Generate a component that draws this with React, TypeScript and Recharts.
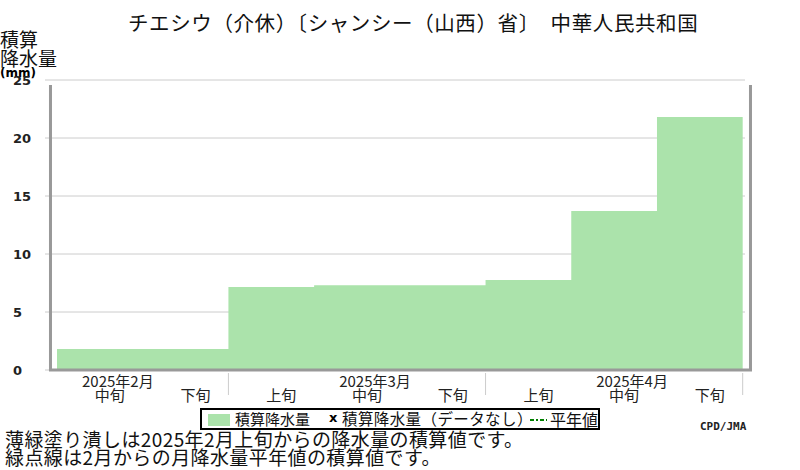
import { ComposedChart, Area, XAxis, YAxis, CartesianGrid, ReferenceLine } from 'recharts'

const TITLE = 'チエシウ（介休）〔シャンシー（山西）省〕　中華人民共和国'
const MONTHS = ['2025年2月', '2025年3月', '2025年4月']
const DEKADS = ['上旬', '中旬', '下旬']
// cumulative precipitation (mm) at the end of each dekad, Feb 上旬 .. Apr 下旬
const TOTALS = [1.8, 1.8, 1.8, 7.15, 7.3, 7.3, 7.75, 13.7, 21.8]
const FIRST_SHOWN = 1 // Feb 上旬 sits left of the plot
const Y_TICKS = [0, 5, 10, 15, 20, 25]
const NOTES = [
  '薄緑塗り潰しは2025年2月上旬からの降水量の積算値です。',
  '緑点線は2月からの月降水量平年値の積算値です。',
]

const JP = '"Noto Sans CJK JP", sans-serif'
const FILL = '#abe3ab'
const FRAME = '#999'

// step area: each dekad holds its value until the next one starts
const data = TOTALS.slice(FIRST_SHOWN).map((total, i) => ({ x: FIRST_SHOWN + i, total }))
data.push({ x: TOTALS.length, total: TOTALS[TOTALS.length - 1] })

// dekad centres get labels, month boundaries get separator lines
const xTicks: number[] = []
for (let i = FIRST_SHOWN; i < TOTALS.length; i++) {
  if (i % 3 === 0) xTicks.push(i)
  xTicks.push(i + 0.5)
}
xTicks.push(TOTALS.length)

const X_DOMAIN = [0.86, 9.027]
const FRAME_LEFT = 0.924
const FRAME_RIGHT = 9.091
const FRAME_TOP = 24.57

function XTick(props: any) {
  const { x, y, payload } = props
  const v = payload.value
  if (Number.isInteger(v)) {
    return <line x1={x} x2={x} y1={y + 3} y2={y + 25} stroke="#ccc" />
  }
  const i = Math.floor(v)
  const d = i % 3
  return (
    <g fontFamily={JP} fontSize={15} fill="#222">
      {d === 1 && (
        <text x={x + 18} y={y + 17} textAnchor="middle">{MONTHS[Math.floor(i / 3)]}</text>
      )}
      <text x={x + 10} y={y + 31} textAnchor="middle">{DEKADS[d]}</text>
    </g>
  )
}

function YTick(props: any) {
  const { x, y, payload } = props
  return (
    <text x={x - 32} y={y + 5} fontSize={13} fontWeight="bold" fontFamily="DejaVu Sans" fill="#222">
      {payload.value}
    </text>
  )
}

function Label({ left, top, size, children, style }: any) {
  return (
    <div
      style={{
        position: 'absolute',
        left,
        top: top - size * 0.05,
        fontSize: size,
        lineHeight: `${size}px`,
        fontFamily: JP,
        whiteSpace: 'nowrap',
        color: '#111',
        ...style,
      }}
    >
      {children}
    </div>
  )
}

export default function App() {
  return (
    <div style={{ position: 'absolute', left: 0, top: 0, width: 800, height: 470, background: '#fff', overflow: 'hidden' }}>
      <Label left={128} top={13} size={20.5} style={{ letterSpacing: 0.6 }}>{TITLE}</Label>

      <Label left={0} top={30} size={19}>積算</Label>
      <Label left={0} top={49} size={19}>降水量</Label>
      <div style={{ position: 'absolute', left: 0, top: 66, fontSize: 12, fontWeight: 'bold', fontFamily: 'DejaVu Sans', lineHeight: '14px' }}>(mm)</div>

      <div style={{ position: 'absolute', left: 0, top: 0 }}>
        <ComposedChart width={800} height={470} data={data} margin={{ top: 80, right: 55, bottom: 70, left: 0 }}>
          <CartesianGrid vertical={false} stroke="#ccc" />
          <XAxis
            dataKey="x"
            type="number"
            domain={X_DOMAIN}
            allowDataOverflow
            ticks={xTicks}
            interval={0}
            tickSize={0}
            tickMargin={0}
            axisLine={false}
            tickLine={false}
            tick={<XTick />}
            height={30}
          />
          <YAxis
            domain={[0, 25]}
            ticks={Y_TICKS}
            width={45}
            tickSize={0}
            tickMargin={0}
            axisLine={false}
            tickLine={false}
            tick={<YTick />}
          />
          <Area
            type="stepAfter"
            dataKey="total"
            fill={FILL}
            fillOpacity={1}
            stroke="none"
            isAnimationActive={false}
          />
          <ReferenceLine
            segment={[{ x: FRAME_LEFT, y: FRAME_TOP }, { x: FRAME_LEFT, y: 0 }]}
            stroke={FRAME}
            strokeWidth={3}
            ifOverflow="visible"
          />
          <ReferenceLine
            segment={[{ x: FRAME_RIGHT, y: FRAME_TOP }, { x: FRAME_RIGHT, y: 0 }]}
            stroke={FRAME}
            strokeWidth={3}
            ifOverflow="visible"
          />
          <ReferenceLine
            segment={[{ x: FRAME_LEFT, y: 0 }, { x: FRAME_RIGHT, y: 0 }]}
            stroke={FRAME}
            strokeWidth={3}
            strokeLinecap="square"
            ifOverflow="visible"
          />
        </ComposedChart>
      </div>

      {/* legend */}
      <div style={{ position: 'absolute', left: 200, top: 408, width: 400, height: 22, border: '2px solid #000', boxSizing: 'border-box' }} />
      <div style={{ position: 'absolute', left: 208, top: 414, width: 22, height: 12, background: FILL }} />
      <Label left={235} top={412} size={15}>積算降水量</Label>
      <div style={{ position: 'absolute', left: 329, top: 410, fontSize: 13, fontWeight: 'bold', fontFamily: 'DejaVu Sans', lineHeight: '16px' }}>x</div>
      <Label left={342} top={412} size={15.5} style={{ letterSpacing: 0.4 }}>積算降水量（データなし）</Label>
      <svg style={{ position: 'absolute', left: 528, top: 415 }} width={20} height={10}>
        <line x1={2} x2={19} y1={5} y2={5} stroke="#008000" strokeWidth={2} strokeDasharray="4 2 2 2" />
      </svg>
      <Label left={550} top={412} size={16}>平年値</Label>

      <div style={{ position: 'absolute', left: 700, top: 421, fontSize: 11, fontWeight: 'bold', fontFamily: 'DejaVu Sans Mono', lineHeight: '12px', color: '#222' }}>CPD/JMA</div>

      {NOTES.map((t, i) => (
        <Label key={i} left={5} top={430 + i * 18} size={19} style={{ letterSpacing: 0.4 }}>{t}</Label>
      ))}
    </div>
  )
}
